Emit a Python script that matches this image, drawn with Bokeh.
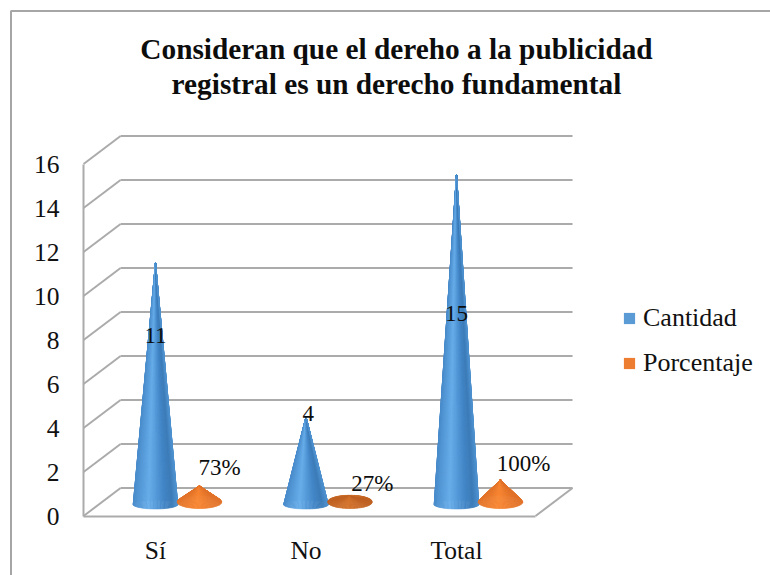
from math import cos, sin, pi
from bokeh.plotting import figure
from bokeh.models import Range1d, FixedTicker, Legend, LegendItem, ColumnDataSource
from bokeh.core.properties import value
from bokeh.embed import file_html
from bokeh.resources import INLINE

# ---------- data ----------
categories = ["Sí", "No", "Total"]
cantidad = [11, 4, 15]
porcentaje = [0.73, 0.27, 1.00]
cantidad_labels = ["11", "4", "15"]
porcentaje_labels = ["73%", "27%", "100%"]
y_ticks = [0, 2, 4, 6, 8, 10, 12, 14, 16]
title_lines = ["Consideran que el dereho a la publicidad", "registral es un derecho fundamental"]

# ---------- layout (not data) ----------
FONT = "Liberation Serif"
GRID = "#ababab"
W, H = 770, 575
PX_X = 150.5        # pixels per category
PX_Y = 22.0         # pixels per unit of value
X0_PAGE, Y0_PAGE = 155, 515.5      # where x=0, y=0 fall inside the figure
X_START = -X0_PAGE / PX_X
X_END = (W - X0_PAGE) / PX_X
Y_END = Y0_PAGE / PX_Y
Y_START = -(H - Y0_PAGE) / PX_Y
AXIS_X = -0.478
DEPTH_X, DEPTH_Y = 0.246, 1.27
FLOOR_END = 2.525
HALF_W = 0.148
BLUE_STOPS = [(0.0, "#4a8ccb"), (0.35, "#68aeea"), (0.7, "#4487c8"), (0.88, "#3d7cb8"), (1.0, "#4f92d0")]
ORANGE_STOPS = [(0.0, "#e2742a"), (0.45, "#f98733"), (1.0, "#e0722a")]


def hex2rgb(h):
    return tuple(int(h[i:i + 2], 16) for i in (1, 3, 5))


def shade(stops, t, k=1.0):
    for (t0, c0), (t1, c1) in zip(stops, stops[1:]):
        if t <= t1:
            f = (t - t0) / (t1 - t0)
            a, b = hex2rgb(c0), hex2rgb(c1)
            rgb = [int(k * (x + (y - x) * f)) for x, y in zip(a, b)]
            return "#%02x%02x%02x" % tuple(rgb)
    return stops[-1][1]


def cone_strips(cx, base_y, height, ry, stops, k=1.0, n=48):
    """Fan of thin triangles from the apex to the base ellipse, back half first."""
    xs, ys, cols = [], [], []
    for j in range(2 * n):
        a0, a1 = j * pi / n, (j + 1) * pi / n
        xa, xb = cos(a0), cos(a1)
        xs.append([cx, cx + HALF_W * xa, cx + HALF_W * xb])
        ys.append([base_y + height, base_y + ry * sin(a0), base_y + ry * sin(a1)])
        cols.append(shade(stops, (1 + (xa + xb) / 2) / 2, k))
    return xs, ys, cols


p = figure(width=W, height=H, output_backend="svg", toolbar_location=None,
           x_range=Range1d(X_START, X_END), y_range=Range1d(Y_START, Y_END),
           min_border=0, outline_line_color=None,
           background_fill_color="white", border_fill_color="white")
p.grid.visible = False

# axes, placed at fixed data positions inside the full-figure frame
ya = p.yaxis[0]
ya.ticker = FixedTicker(ticks=y_ticks)
ya.bounds = (0, y_ticks[-1])
ya.fixed_location = AXIS_X
xa = p.xaxis[0]
xa.ticker = FixedTicker(ticks=list(range(len(categories))))
xa.major_label_overrides = {i: c for i, c in enumerate(categories)}
xa.bounds = (AXIS_X, FLOOR_END)
xa.fixed_location = 0
for ax, standoff in ((ya, 18), (xa, 14)):
    ax.axis_line_color = GRID
    ax.axis_line_width = 2
    ax.major_tick_line_color = None
    ax.minor_tick_line_color = None
    ax.major_label_text_font = FONT
    ax.major_label_text_font_size = "25.5px"
    ax.major_label_text_color = "#111111"
    ax.major_label_standoff = standoff

# chart-area border: only its top and left edges fall inside the picture
BORDER_X = (10.5 - X0_PAGE) / PX_X
BORDER_Y = (Y0_PAGE - 10.5) / PX_Y
p.line(x=[BORDER_X, BORDER_X, X_END + 1], y=[Y_START - 1, BORDER_Y, BORDER_Y],
       line_color="#a6a6a6", line_width=2)

# 3-D walls: one diagonal and one back line per tick, plus the right floor edge
p.segment(x0=[AXIS_X] * len(y_ticks), y0=y_ticks,
          x1=[AXIS_X + DEPTH_X] * len(y_ticks), y1=[t + DEPTH_Y for t in y_ticks],
          line_color=GRID, line_width=2)
p.segment(x0=[AXIS_X + DEPTH_X] * len(y_ticks), y0=[t + DEPTH_Y for t in y_ticks],
          x1=[FLOOR_END + DEPTH_X] * len(y_ticks), y1=[t + DEPTH_Y for t in y_ticks],
          line_color=GRID, line_width=2)
p.segment(x0=[FLOOR_END], y0=[0], x1=[FLOOR_END + DEPTH_X], y1=[DEPTH_Y],
          line_color=GRID, line_width=2)

# cones
ORANGE_DX = 0.292
BLUE_BASE, ORANGE_BASE = 0.52, 0.64
BLUE_RY, ORANGE_RY = 0.2, 0.3
ORANGE_DARK = [1.0, 0.85, 1.0]


def draw(src_xs, src_ys, cols):
    src = ColumnDataSource(dict(xs=src_xs, ys=src_ys, c=cols))
    p.patches("xs", "ys", source=src, fill_color="c", line_color="c", line_width=0.6)


for i, v in enumerate(cantidad):
    draw(*cone_strips(i, BLUE_BASE, v, BLUE_RY, BLUE_STOPS))
for i, v in enumerate(porcentaje):
    draw(*cone_strips(i + ORANGE_DX, ORANGE_BASE, v, ORANGE_RY, ORANGE_STOPS, ORANGE_DARK[i]))

# data labels
BLUE_LABEL_Y = [8.2, 4.65, 9.2]
BLUE_LABEL_X = [0.0, 0.015, 0.0]
ORANGE_LABEL_Y = [2.2, 1.5, 2.4]
ORANGE_LABEL_X = [0.425, 0.44, 0.445]
p.text(x=[i + d for i, d in enumerate(BLUE_LABEL_X)], y=BLUE_LABEL_Y, text=cantidad_labels,
       text_font=value(FONT), text_font_size="23px", text_color="#0d0d0d",
       text_align="center", text_baseline="middle")
p.text(x=[i + d for i, d in enumerate(ORANGE_LABEL_X)], y=ORANGE_LABEL_Y, text=porcentaje_labels,
       text_font=value(FONT), text_font_size="23px", text_color="#0d0d0d",
       text_align="center", text_baseline="middle")

# title, drawn in the same full-figure frame
TITLE_X = (396 - X0_PAGE) / PX_X
TITLE_Y = [(Y0_PAGE - 48) / PX_Y, (Y0_PAGE - 83) / PX_Y]
p.text(x=[TITLE_X, TITLE_X], y=TITLE_Y, text=title_lines,
       text_font=value(FONT), text_font_size="29.3px", text_font_style="bold", text_color="#0d0d0d",
       text_align="center", text_baseline="middle")

# legend
nan = float("nan")
r1 = p.quad(left=[nan], right=[nan], top=[nan], bottom=[nan], fill_color="#5b9bd5", line_color=None)
r2 = p.quad(left=[nan], right=[nan], top=[nan], bottom=[nan], fill_color="#ed7d31", line_color=None)
legend = Legend(items=[LegendItem(label="Cantidad", renderers=[r1]),
                       LegendItem(label="Porcentaje", renderers=[r2])],
                location=(622, 575 - 378), orientation="vertical", padding=0, margin=0, spacing=15,
                glyph_width=14, glyph_height=14, label_standoff=7,
                label_text_font=FONT, label_text_font_size="26px", label_text_color="#111111",
                background_fill_alpha=0, border_line_color=None)
p.add_layout(legend)

open("out.html", "w").write(file_html(p, INLINE))
